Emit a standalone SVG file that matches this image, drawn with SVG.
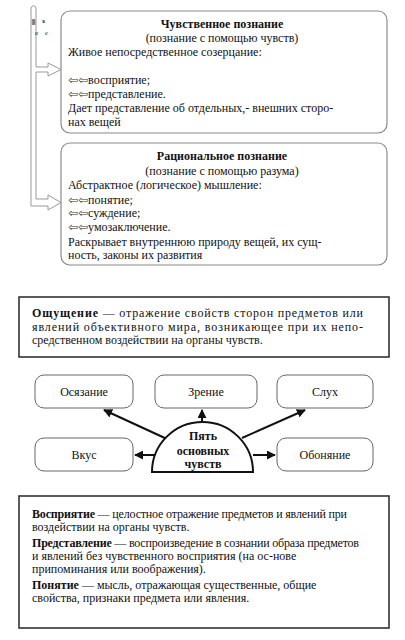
<svg xmlns="http://www.w3.org/2000/svg" width="405" height="640" viewBox="0 0 405 640" font-family="'Liberation Serif', 'Times New Roman', 'DejaVu Serif', serif">
<defs>
<style>
text{font-family:'Liberation Serif','Times New Roman','DejaVu Serif',serif;font-size:12px;fill:#111}
.b{font-weight:bold}
.c{text-anchor:middle}
.ar{font-family:'DejaVu Sans',sans-serif;font-size:12px;fill:#333}
.rb{fill:#fff;stroke:#8a8a8a;stroke-width:1.2}
.sq{fill:#fff;stroke:#333;stroke-width:1.6}
.nb{fill:#fff;stroke:#666;stroke-width:1}
.con{stroke:#111;stroke-width:2;fill:none;marker-end:url(#ah)}
.g{font-size:7px;fill:#222}
</style>
<marker id="ah" viewBox="0 0 10 10" refX="9" refY="5" markerWidth="4.5" markerHeight="4.5" orient="auto" markerUnits="strokeWidth">
<path d="M0,0 L10,5 L0,10 Z" fill="#111"/>
</marker>
</defs>
<rect width="405" height="640" fill="#fff"/>

<g id="connectors-top">
<path d="M31,206 L31,8 Q33.5,3 36,8 L36,67 L48,67 L48,63 L61,69.5 L48,76 L48,72 L36,72 L36,199 L48,199 L48,195 L61,202.5 L48,210 L48,206 Z" fill="#fff" stroke="#999" stroke-width="1"/>
<text class="g b" transform="translate(35,25) rotate(-90)">ш</text>
<text class="g b" x="42" y="23">з</text>
<text class="g" x="35" y="35" font-style="italic">в</text>
<text class="g" x="45" y="35">є</text>
</g>

<g id="box-sensory">
<rect class="rb" x="61" y="11" width="326" height="122" rx="9"/>
<text class="b c" x="222" y="28">Чувственное познание</text>
<text class="c" x="222" y="42">(познание с помощью чувств)</text>
<text x="68" y="56">Живое непосредственное  созерцание:</text>
<text x="68" y="84"><tspan class="ar">⇦⇦</tspan>восприятие;</text>
<text x="68" y="98"><tspan class="ar">⇦⇦</tspan>представление.</text>
<text x="68" y="112">Дает представление  об отдельных,- внешних сторо-</text>
<text x="68" y="126">нах вещей</text>
</g>

<g id="box-rational">
<rect class="rb" x="61" y="143" width="326" height="122" rx="9"/>
<text class="b c" x="222" y="160">Рациональное познание</text>
<text class="c" x="222" y="175">(познание с помощью разума)</text>
<text x="68" y="189">Абстрактное (логическое) мышление:</text>
<text x="68" y="204"><tspan class="ar">⇦⇦</tspan>понятие;</text>
<text x="68" y="217"><tspan class="ar">⇦⇦</tspan>суждение;</text>
<text x="68" y="231"><tspan class="ar">⇦⇦</tspan>умозаключение.</text>
<text x="68" y="246">Раскрывает внутреннюю природу вещей, их сущ-</text>
<text x="68" y="259">ность, законы их развития</text>
</g>

<g id="box-sensation">
<rect class="sq" x="19" y="297" width="370" height="60"/>
<text x="32" y="317" textLength="331" lengthAdjust="spacing"><tspan class="b">Ощущение</tspan> — отражение свойств сторон предметов или</text>
<text x="32" y="331" textLength="331" lengthAdjust="spacing">явлений объективного мира, возникающее при их непо-</text>
<text x="32" y="344">средственном воздействии на органы чувств.</text>
</g>

<g id="connectors">
<line class="con" x1="167" y1="439" x2="104" y2="410"/>
<line class="con" x1="202" y1="422" x2="202" y2="410"/>
<line class="con" x1="242" y1="438" x2="305" y2="410"/>
<line class="con" x1="156" y1="455" x2="135" y2="455"/>
<line class="con" x1="253" y1="455" x2="275" y2="455"/>
</g>

<g id="node-osyazanie">
<rect class="nb" x="35" y="375" width="98" height="33" rx="9"/>
<text class="c" x="84" y="396">Осязание</text>
</g>
<g id="node-zrenie">
<rect class="nb" x="155" y="375" width="102" height="33" rx="9"/>
<text class="c" x="206" y="396">Зрение</text>
</g>
<g id="node-sluh">
<rect class="nb" x="277" y="375" width="96" height="33" rx="9"/>
<text class="c" x="325" y="396">Слух</text>
</g>
<g id="node-vkus">
<rect class="nb" x="35" y="438" width="98" height="33" rx="9"/>
<text class="c" x="84" y="459">Вкус</text>
</g>
<g id="node-obonyanie">
<rect class="nb" x="277" y="438" width="96" height="33" rx="9"/>
<text class="c" x="325" y="459">Обоняние</text>
</g>
<g id="node-center">
<path d="M152,472 A50.5,50 0 0 1 253,472 Z" fill="#fff" stroke="#111" stroke-width="2"/>
<text class="b c" x="203" y="440">Пять</text>
<text class="b c" x="203" y="455">основных</text>
<text class="b c" x="203" y="468">чувств</text>
</g>

<g id="box-definitions">
<rect class="sq" x="19" y="496" width="370" height="132"/>
<text x="32" y="518" textLength="315" lengthAdjust="spacing"><tspan class="b">Восприятие</tspan> — целостное  отражение предметов и явлений при</text>
<text x="32" y="531">воздействии на органы чувств.</text>
<text x="32" y="547" textLength="327" lengthAdjust="spacing"><tspan class="b">Представление</tspan> — воспроизведение  в сознании образа предметов</text>
<text x="32" y="560">и явлений без чувственного восприятия (на ос-нове</text>
<text x="32" y="573">припоминания или воображения).</text>
<text x="32" y="589"><tspan class="b">Понятие</tspan> — мысль, отражающая  существенные,  общие</text>
<text x="32" y="602">свойства, признаки предмета или явления.</text>
</g>
</svg>
